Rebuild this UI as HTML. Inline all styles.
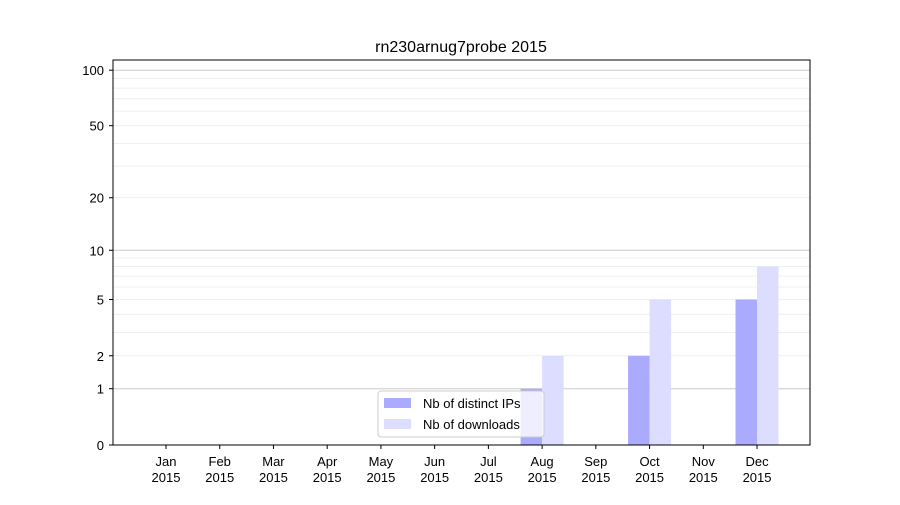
<!DOCTYPE html>
<html><head><meta charset="utf-8"><style>body{margin:0;background:#fff}</style></head><body>
<svg width="900" height="500" xmlns="http://www.w3.org/2000/svg" font-family="Liberation Sans, DejaVu Sans, sans-serif">
<rect width="900" height="500" fill="#fff"/>
<g id="grid"></g>
<g id="bars"></g>
<rect x="113" y="60" width="697" height="385" fill="none" stroke="#000" stroke-width="1"/>
<text x="461" y="52" font-size="16" text-anchor="middle">rn230arnug7probe 2015</text>
<g id="ticks" font-size="13"></g>
<g>
<rect x="378" y="391" width="166" height="46" fill="#fff" fill-opacity="0.8" stroke="#ccc" rx="3"/>
<rect x="384" y="398" width="27" height="10" fill="#aaaaff"/>
<text x="423" y="408" font-size="13">Nb of distinct IPs</text>
<rect x="384" y="419" width="27" height="10" fill="#ddddff"/>
<text x="423" y="429" font-size="13">Nb of downloads</text>
</g>
</svg>
<script>
const Y=v=>445-187*Math.log10(1+v);
const ns="http://www.w3.org/2000/svg";
function el(p,t,a,txt){const e=document.createElementNS(ns,t);for(const k in a)e.setAttribute(k,a[k]);if(txt!=null)e.textContent=txt;document.getElementById(p).appendChild(e);return e;}
[2,3,4,5,6,7,8,9,20,30,40,50,60,70,80,90].forEach(v=>el('grid','line',{x1:113,x2:810,y1:Y(v),y2:Y(v),stroke:'#ebebeb','stroke-width':0.8}));
[1,10,100].forEach(v=>el('grid','line',{x1:113,x2:810,y1:Y(v),y2:Y(v),stroke:'#cccccc','stroke-width':1}));
const X=i=>166+i*53.73;
const data={7:[1,2],9:[2,5],11:[5,8]};
for(const i in data){const [a,b]=data[i];const x=X(+i);
el('bars','rect',{x:x-21.5,y:Y(a),width:21.5,height:445-Y(a),fill:'#aaaaff'});
el('bars','rect',{x:x,y:Y(b),width:21.5,height:445-Y(b),fill:'#ddddff'});}
// re-draw legend above bars (legend placed after in DOM already)
[0,1,2,5,10,20,50,100].forEach(v=>{const y=Y(v);el('ticks','line',{x1:109,x2:113,y1:y,y2:y,stroke:'#000'});el('ticks','text',{x:104,y:y+5,'text-anchor':'end'},v);});
['Jan','Feb','Mar','Apr','May','Jun','Jul','Aug','Sep','Oct','Nov','Dec'].forEach((m,i)=>{const x=X(i);el('ticks','line',{x1:x,x2:x,y1:445,y2:449,stroke:'#000'});el('ticks','text',{x:x,y:466,'text-anchor':'middle'},m);el('ticks','text',{x:x,y:482,'text-anchor':'middle'},'2015');});
</script>
</body></html>
